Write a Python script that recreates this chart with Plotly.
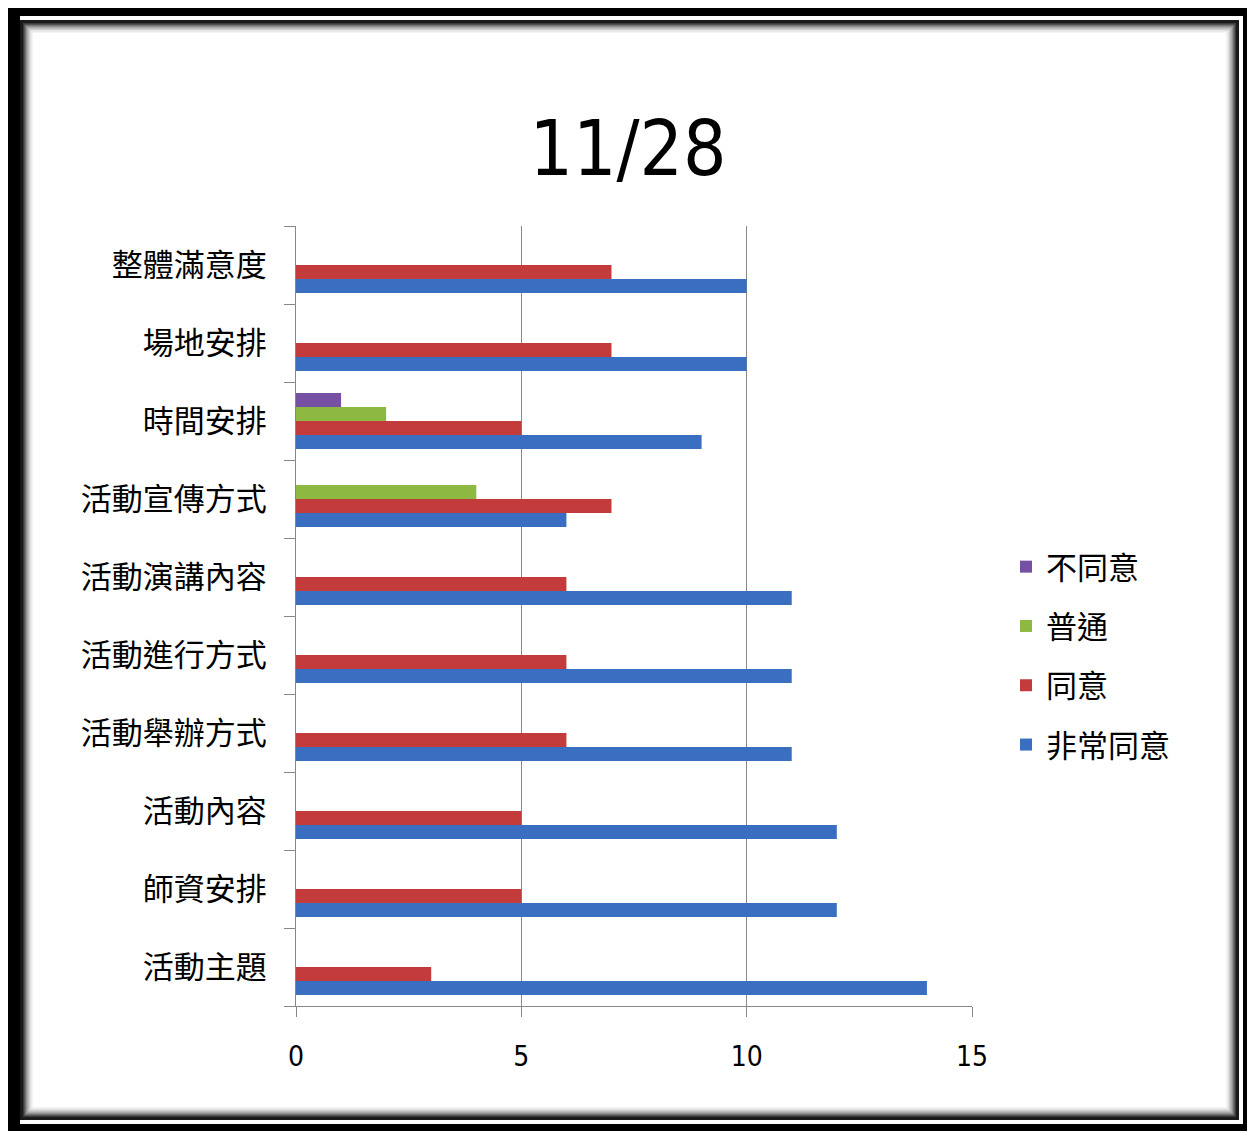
import plotly.graph_objects as go

categories = ["活動主題", "師資安排", "活動內容", "活動舉辦方式", "活動進行方式",
              "活動演講內容", "活動宣傳方式", "時間安排", "場地安排", "整體滿意度"]
very_agree = [14, 12, 12, 11, 11, 11, 6, 9, 10, 10]
agree = [3, 5, 5, 6, 6, 6, 7, 5, 7, 7]
neutral = [0, 0, 0, 0, 0, 0, 4, 2, 0, 0]
disagree = [0, 0, 0, 0, 0, 0, 0, 1, 0, 0]
series_names = ["非常同意", "同意", "普通", "不同意"]
series_values = [very_agree, agree, neutral, disagree]
series_colors = ["#3A6EC0", "#C33B3A", "#8DB841", "#7650A2"]
legend_ranks = [4, 3, 2, 1]
x_ticks = [0, 5, 10, 15]
title_text = "11/28"

OFF = 8  # page body margin
WIN_W, WIN_H = 1255, 1131
W, H = WIN_W - OFF, WIN_H - OFF
L, R, T, B = 296, 972, 226, 1006  # plot area in window pixels

def px(x):
    return (x - L) / (R - L)

def py(y):
    return (B - y) / (B - T)

fig = go.Figure()
for name, vals, col, rk in zip(series_names, series_values, series_colors, legend_ranks):
    fig.add_trace(go.Bar(
        y=categories, x=vals, name=name, orientation="h",
        marker=dict(color=col, line=dict(width=0)),
        legendgroup=name, legendrank=rk,
    ))

shapes = []
def rect(x0, y0, x1, y1, fill):
    shapes.append(dict(type="rect", xref="paper", yref="paper", layer="below",
                       x0=px(x0), x1=px(x1), y0=py(y1), y1=py(y0),
                       fillcolor=fill, line=dict(color="rgba(0,0,0,0)", width=0)))

rect(8, 5, 1260, 1136, "#000000")
rect(20, 16, 1243, 1124, "#FFFFFF")
rect(20, 20, 1239, 1120, "#1a1a1a")
shade = ["#3a3a3a", "#6a6a6a", "#8f8f8f", "#b0b0b0", "#cccccc", "#e2e2e2", "#f2f2f2", "#ffffff"]
for i, c in enumerate(shade):
    rect(23 + i * 1.4, 23 + i * 1.4, 1236 - i * 1.4, 1117 - i * 1.4, c)

narrow = "Liberation Sans Narrow, Arial Narrow, DejaVu Sans Condensed, Lato"
cjk = "Noto Sans CJK TC"

fig.update_layout(
    width=W, height=H,
    margin=dict(l=L - OFF, r=WIN_W - R, t=T - OFF, b=WIN_H - B, pad=0),
    paper_bgcolor="#FFFFFF",
    plot_bgcolor="rgba(0,0,0,0)",
    barmode="group", bargap=0.28, bargroupgap=0,
    title=dict(text=title_text, x=(628 - OFF) / W, y=1 - (148 - OFF) / H,
               xanchor="center", yanchor="middle",
               font=dict(family=narrow, size=76, color="#000000")),
    shapes=shapes,
    legend=dict(x=px(1006), y=py(656), xanchor="left", yanchor="middle",
                traceorder="grouped", tracegroupgap=16,
                font=dict(family=cjk, size=31, color="#000000"),
                itemwidth=30, bgcolor="rgba(0,0,0,0)"),
    showlegend=True,
)
fig.update_xaxes(range=[0, 15], tickvals=x_ticks, showgrid=True, gridcolor="#888888", gridwidth=1,
                 showline=True, linecolor="#888888", linewidth=1, zeroline=False,
                 ticks="outside", ticklen=10, tickcolor="#888888",
                 tickfont=dict(family=narrow, size=28, color="#000000"), ticklabelstandoff=15,
                 fixedrange=True)
fig.update_yaxes(showgrid=False, showline=True, linecolor="#888888", linewidth=1,
                 ticks="outside", tickson="boundaries", ticklen=11, tickcolor="#888888",
                 tickfont=dict(family=cjk, size=31, color="#000000"),
                 ticklabelstandoff=22, fixedrange=True)

fig.write_html("out.html")
